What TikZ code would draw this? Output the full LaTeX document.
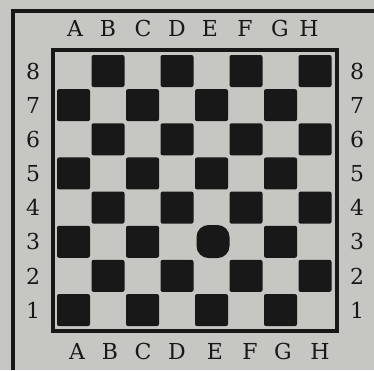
\documentclass[tikz,border=0pt]{standalone}
\usepackage{fontspec}
\setmainfont{DejaVu Serif}
\usetikzlibrary{positioning}
\definecolor{paper}{RGB}{198,198,194}
\definecolor{ink}{RGB}{24,24,24}
\tikzstyle{darksq} = [
    rectangle,
    rounded corners=2pt,
    minimum width=33pt,
    minimum height=32pt,
    inner sep=0pt,
    fill=ink
]
\tikzstyle{piece} = [
    rectangle,
    rounded corners=12pt,
    minimum width=33pt,
    minimum height=33pt,
    inner sep=0pt,
    fill=ink
]
\tikzstyle{coord} = [
    inner sep=0pt,
    font=\fontsize{22}{22}\selectfont,
    text=ink
]
\tikzstyle{frame} = [line width=4pt, draw=ink]

\begin{document}
\begin{tikzpicture}[x=1pt, y=-1pt]

\useasboundingbox[fill=paper] (0,0) rectangle (374,370);

% outer border
\draw [frame, line width=3.5pt] (13,370) -- (13,11) -- (374,11);

% board edge
\draw [frame] (53,50) rectangle (337,331);

% dark squares
\foreach \c in {1,...,8} {
  \foreach \r in {1,...,8} {
    \pgfmathtruncatemacro{\parity}{mod(\c+\r,2)+(\c==5)*(\r==3)}
    \ifnum\parity=0
      \node (sq-\c-\r) [darksq] at ({73.5+(\c-1)*34.5},{71+(8-\r)*34.15}) {};
    \fi
  }
}

% man on E3
\node (man) [piece] at (213,241.5) {};

% file letters
\foreach \l/\xt/\xb in {A/75/77, B/108/110, C/143/143, D/177/177,
                        E/210/215, F/245/250, G/280/283, H/309/320} {
  \node (top-\l) [coord] at (\xt,28) {\l};
  \node (bot-\l) [coord] at (\xb,351) {\l};
}

% rank numbers
\foreach \r in {1,...,8} {
  \node (left-\r) [coord] at (33,{71+(8-\r)*34.15}) {\r};
  \node (right-\r) [coord] at (357,{71+(8-\r)*34.15}) {\r};
}

\end{tikzpicture}
\end{document}
